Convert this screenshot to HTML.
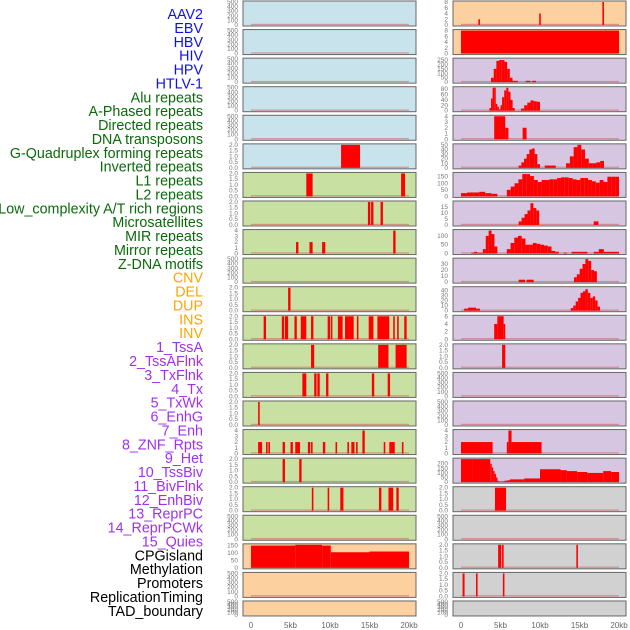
<!DOCTYPE html>
<html><head><meta charset="utf-8"><style>
html,body{margin:0;padding:0;background:#fff;width:630px;height:630px;overflow:hidden}
svg{display:block}
</style></head><body>
<svg id="chart" width="630" height="630" xmlns="http://www.w3.org/2000/svg"></svg>
<script>
const trackLabels = ["AAV2","EBV","HBV","HIV","HPV","HTLV-1","Alu repeats","A-Phased repeats","Directed repeats","DNA transposons","G-Quadruplex forming repeats","Inverted repeats","L1 repeats","L2 repeats","Low_complexity A/T rich regions","Microsatellites","MIR repeats","Mirror repeats","Z-DNA motifs","CNV","DEL","DUP","INS","INV","1_TssA","2_TssAFlnk","3_TxFlnk","4_Tx","5_TxWk","6_EnhG","7_Enh","8_ZNF_Rpts","9_Het","10_TssBiv","11_BivFlnk","12_EnhBiv","13_ReprPC","14_ReprPCWk","15_Quies","CPGisland","Methylation","Promoters","ReplicationTiming","TAD_boundary"];
const labelGroups = [6,13,5,15,5];
const xTicks = [0,5,10,15,20];
const xTickLabels = ["0","5kb","10kb","15kb","20kb"];
const E = [0,100,200,300,400,500];
const T2 = [0,0.5,1,1.5,2];
const leftTicks = [E,E,E,E,E,T2,T2,T2,[0,1,2,3,4],E,T2,T2,T2,T2,T2,[0,1,2,3,4],T2,T2,E,[0,50,100,150],E,E];
const leftMax = [500,500,500,500,500,2,2,2,4,500,2,2,2,2,2,4,2,2,500,155,500,500];
const leftBars = [
 [],[],[],[],[],
 [[11.4,13.8,2]],
 [[7.0,7.8,2],[19.0,19.5,2]],
 [[14.8,15.1,2],[15.2,15.5,2],[16.4,16.7,2]],
 [[5.7,6.0,2],[7.4,7.8,2],[9.0,9.4,2],[18.0,18.3,4]],
 [],
 [[4.7,5.0,2]],
 [[1.6,1.9,2],[3.9,4.2,2],[4.3,4.7,2],[5.5,5.8,2],[6.3,7.0,2],[7.6,7.9,2],[9.7,10.0,2],[10.1,10.3,2],[11.0,11.6,2],[11.9,13.0,2],[13.4,13.6,2],[14.9,15.5,2],[16.0,17.5,2],[18.0,18.2,2],[18.5,18.7,2],[19.4,19.7,2]],
 [[7.6,8.0,2],[16.1,17.4,2],[18.3,19.7,2]],
 [[6.5,7.0,2],[8.0,8.3,2],[8.4,8.7,2],[9.5,9.8,2],[15.3,15.6,2],[17.3,17.6,2]],
 [[0.9,1.1,2]],
 [[0.9,1.4,2],[1.9,2.1,2],[2.2,2.4,2],[4.0,4.3,2],[5.0,5.3,2],[5.6,6.2,2],[7.2,7.5,2],[7.6,7.8,2],[9.1,9.4,2],[10.7,10.9,2],[12.2,12.4,2],[12.7,13.1,2],[13.3,13.5,2],[14.1,14.4,4],[16.8,17.0,2],[17.5,18.2,2],[19.1,19.3,2]],
 [[4.0,4.3,2],[6.1,6.4,2]],
 [[7.7,7.9,2],[9.7,9.9,2],[11.3,11.7,2],[16.2,16.5,2],[17.4,18.0,2],[18.4,18.7,2]],
 [],
 [[0,5.6,150],[5.6,9.0,155],[9.0,10.1,150],[10.1,15.0,105],[15.0,20,110]],
 [],[]
];
const rightTicks = [[0,2,4,6,8],[0,2,4,6,8],[0,50,100,150,200,250],[0,20,40,60,80],[0,1,2,3,4],[0,10,20,30,40,50],[0,50,100,150],[0,5,10,15],[0,50,100],[0,10,20,30],[0,10,20,30,40],[0,2,4,6],T2,E,E,[0,1,2,3,4],[0,50,100,150,200],T2,E,T2,T2,E];
const rightMax = [8,8,260,85,4,50,175,19,130,38,45,6,2,500,500,4,250,2,500,2,2,500];
const rightSeqs = [
 [[2.2,2.4,[2]],[9.9,10.1,[4]],[17.9,18.1,[8]]],
 [[0,20,[8]]],
 [[3.8,7.2,[50,150,240,250,250,230,150,50,15,15]],[8.2,8.8,[15]],[9.0,9.5,[15]]],
 [[3.6,5.2,[10,45,85,85,25,15,5,20]],[5.2,6.8,[50,75,85,70,40,10]],[7.6,10,[8,20,30,38,35,33]]],
 [[4.2,5.6,[4]],[5.6,6.0,[2]],[7.8,8.3,[2]]],
 [[7.3,10.0,[5,12,20,30,40,42,30,8]],[10.6,12,[5]],[13.3,18.1,[10,25,45,50,40,20,10,10,12,15]]],
 [[0,4.6,[25,30,30,35,25,20]],[5.8,20,[50,75,100,130,170,170,155,125,110,125,125,130,130,140,145,145,140,130,125,140,140,125,115,105,125,110,150,150,150]]],
 [[7.3,9.9,[3,6,9,12,18,14,12]],[16.8,17.4,[3]]],
 [[1.3,4.6,[5,10,5,5,25,100,130,110,40]],[5.8,12.4,[25,60,90,100,85,50,50,60,55,50,45,40,15,10]],[13,13.4,[5]],[14,16,[10]],[16.8,20,[10,25,10,10,10]]],
 [[7.3,8.1,[4]],[8.3,9.2,[4]],[14.3,17.2,[8,13,22,30,38,35,20,18]]],
 [[0.4,2.4,[4,6,6,4]],[13.9,17.6,[5,10,18,25,35,38,42,35,25,28,20,8]]],
 [[4.2,4.6,[4]],[4.6,5.4,[6]],[5.4,5.6,[4]]],
 [[5.2,5.6,[2]]],
 [],[],
 [[0,4.0,[2]],[5.8,6.0,[2]],[6.0,6.4,[4]],[6.4,10.2,[2]]],
 [[0,1.4,[260]],[1.4,3.7,[250]],[3.7,4.8,[200,160,120,90,50,10]],[4.8,5.5,[5]],[5.5,6.2,[15,20]],[6.2,8.0,[30]],[8.0,10,[40]],[10,12.6,[140]],[12.6,13.4,[130]],[13.4,14.7,[120]],[14.7,16.0,[110]],[16.0,18.0,[100]],[18.0,20,[120,110]]],
 [[4.3,5.7,[2]]],
 [],
 [[4.7,5.1,[2]],[5.2,5.4,[2]],[14.6,14.8,[2]]],
 [[0.2,0.45,[2]],[1.9,2.1,[2]],[5.3,5.5,[2]]],
 []
];
const leftBg = ["#c9e3ec","#c9e3ec","#c9e3ec","#c9e3ec","#c9e3ec","#c9e3ec","#c8e0a1","#c8e0a1","#c8e0a1","#c8e0a1","#c8e0a1","#c8e0a1","#c8e0a1","#c8e0a1","#c8e0a1","#c8e0a1","#c8e0a1","#c8e0a1","#c8e0a1","#fdd09f","#fdd09f","#fdd09f"];
const rightBg = ["#fdd09f","#fdd09f","#d6c6e1","#d6c6e1","#d6c6e1","#d6c6e1","#d6c6e1","#d6c6e1","#d6c6e1","#d6c6e1","#d6c6e1","#d6c6e1","#d6c6e1","#d6c6e1","#d6c6e1","#d6c6e1","#d6c6e1","#d1d1d1","#d1d1d1","#d1d1d1","#d1d1d1","#d1d1d1"];

const NS="http://www.w3.org/2000/svg";
const svg=document.getElementById('chart');
function mk(tag,attrs,parent){const e=document.createElementNS(NS,tag);for(const k in attrs)e.setAttribute(k,attrs[k]);(parent||svg).appendChild(e);return e;}
const groupColors=["#1010ee","#0a6a0a","#ffa500","#a030ee","#000000"];
let gi=0,cnt=0;
trackLabels.forEach((t,i)=>{
  while(cnt>=labelGroups[gi]){cnt-=labelGroups[gi];gi++;}
  cnt++;
  const el=mk('text',{x:203,y:19+i*13.88,'text-anchor':'end','font-size':'14.3','font-family':'Liberation Sans, sans-serif',fill:groupColors[gi]});
  el.textContent=t;
  
  
});
function rowTop(i){return 1+i*28.57;}
function rowH(i){return i===21?15:25;}
function drawPanel(col,i,bg,ticks,ymax,bars){
  const px=col===0?243:453, pw=173, top=rowTop(i), h=rowH(i), bottom=top+h-1;
  const x0=px+8, kbw=7.9;
  const xs=kb=>x0+kb*kbw;
  const ys=v=>bottom-Math.min(v,ymax)/ymax*(h-2);
  const g=mk('g',{});
  
  
  const r=mk('rect',{x:px,y:top,width:pw,height:h,fill:bg,stroke:'#666','stroke-width':1},g);
  
  
  if(i<21){
    const bl=mk('rect',{x:xs(0),y:bottom-1.2,width:20*kbw,height:1.2,fill:'#d06060',opacity:0.6},g);
    
    
  }
  bars.forEach(b=>{
    const rr=mk('rect',{x:xs(b[0]),y:ys(b[2]),width:Math.max(1.5,xs(b[1])-xs(b[0])),height:bottom-ys(b[2]),fill:'#ff0000'},g);
    
    
  });
  ticks.forEach(v=>{
    const tx=mk('text',{x:px-5,y:ys(v)+2,'text-anchor':'end','font-size':'6.5','font-family':'Liberation Sans, sans-serif',fill:'#777'},g);
    tx.textContent=(ymax<=2&&ticks.length===5)?v.toFixed(1):String(v);
    
    
  });
}
for(let i=0;i<22;i++){
  drawPanel(0,i,leftBg[i],leftTicks[i],leftMax[i],leftBars[i]);
  const rb=[];
  rightSeqs[i].forEach(s=>{const n=s[2].length,w=(s[1]-s[0])/n;s[2].forEach((v,k)=>rb.push([s[0]+k*w,s[0]+(k+1)*w,v]));});
  drawPanel(1,i,rightBg[i],rightTicks[i],rightMax[i],rb);
}
[243,453].forEach(px=>{
  xTicks.forEach((kb,k)=>{
    const t=mk('text',{x:px+8+kb*7.9,y:628,'text-anchor':'middle','font-size':'8','font-family':'Liberation Sans, sans-serif',fill:'#666'});
    t.textContent=xTickLabels[k];
    
    
  });
});
</script>
</body></html>
